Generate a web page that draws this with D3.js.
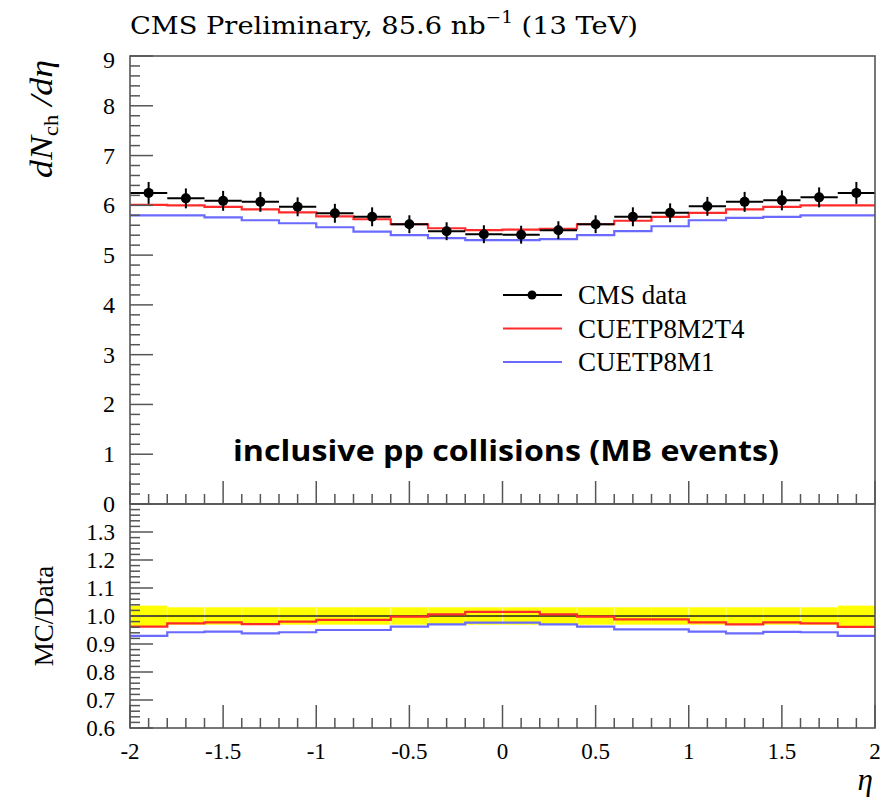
<!DOCTYPE html>
<html><head><meta charset="utf-8">
<script src="https://cdn.jsdelivr.net/npm/d3@7"></script>
<style>body{margin:0;background:#fff}svg{display:block}</style>
</head><body>
<svg id="c" width="888" height="798"></svg>
<script>
const binEdges = [-2,-1.8,-1.6,-1.4,-1.2,-1.0,-0.8,-0.6,-0.4,-0.2,0,0.2,0.4,0.6,0.8,1.0,1.2,1.4,1.6,1.8,2.0];
const dataVals = [6.25,6.14,6.09,6.07,5.97,5.84,5.77,5.62,5.48,5.42,5.41,5.50,5.62,5.77,5.85,5.98,6.07,6.10,6.16,6.25];
const dataErr  = [0.22,0.20,0.20,0.20,0.19,0.19,0.19,0.18,0.18,0.18,0.18,0.18,0.18,0.19,0.19,0.19,0.20,0.20,0.20,0.22];
const m2t4Vals = [6.01,6.00,5.97,5.92,5.86,5.78,5.72,5.62,5.54,5.50,5.51,5.53,5.62,5.69,5.77,5.85,5.92,5.97,6.00,6.00];
const m1Vals   = [5.80,5.80,5.76,5.70,5.64,5.56,5.47,5.40,5.34,5.30,5.30,5.32,5.40,5.48,5.58,5.70,5.75,5.77,5.80,5.80];
const m2t4Ratio = [0.962,0.974,0.977,0.971,0.980,0.986,0.986,0.998,1.006,1.015,1.015,1.006,0.998,0.988,0.988,0.977,0.970,0.977,0.974,0.961];
const m1Ratio   = [0.929,0.942,0.944,0.938,0.942,0.950,0.950,0.962,0.970,0.976,0.976,0.970,0.962,0.952,0.952,0.944,0.938,0.943,0.942,0.929];
const bandHalf  = [0.037,0.031,0.031,0.031,0.031,0.031,0.031,0.031,0.031,0.031,0.031,0.031,0.031,0.031,0.031,0.031,0.031,0.031,0.031,0.037];
const xTickLabels = ["-2","-1.5","-1","-0.5","0","0.5","1","1.5","2"];
const xTickVals = [-2,-1.5,-1,-0.5,0,0.5,1,1.5,2];
const yTopTicks = [0,1,2,3,4,5,6,7,8,9];
const yBotTicks = [0.6,0.7,0.8,0.9,1.0,1.1,1.2,1.3];
const yBotLabels = ["0.6","0.7","0.8","0.9","1.0","1.1","1.2","1.3"];
const legendLabels = ["CMS data","CUETP8M2T4","CUETP8M1"];

const svg = d3.select("#c");
const L=130, R=875, T=56, M=504, B=728;
const x = d3.scaleLinear().domain([-2,2]).range([L,R]);
const yT = d3.scaleLinear().domain([0,9]).range([M,T]);
const yB = d3.scaleLinear().domain([0.6,1.4]).range([B,M]);
const serif = "'Liberation Serif','DejaVu Serif',serif";
const axisCol = "#555";
const RED = "#ff2a2a", BLUE = "#6a6aff";

// band
const bins = d3.range(20).map(i=>({x0:binEdges[i],x1:binEdges[i+1],i}));
svg.append("g").selectAll("rect").data(bins).join("rect")
  .attr("x",d=>x(d.x0)).attr("width",d=>x(d.x1)-x(d.x0))
  .attr("y",d=>yB(1+bandHalf[d.i])).attr("height",d=>yB(1-bandHalf[d.i])-yB(1+bandHalf[d.i]))
  .attr("fill","#ffff00");
svg.append("g").selectAll("line").data(binEdges.slice(1,-1)).join("line")
  .attr("x1",d=>x(d)).attr("x2",d=>x(d))
  .attr("y1",(d,i)=>yB(1+Math.min(bandHalf[i],bandHalf[i+1]))).attr("y2",(d,i)=>yB(1-Math.min(bandHalf[i],bandHalf[i+1])))
  .attr("stroke","#ffff99").attr("stroke-width",1);
svg.append("line").attr("x1",x(-2)).attr("x2",x(2)).attr("y1",yB(1)).attr("y2",yB(1)).attr("stroke","#222").attr("stroke-width",1.5);

function stepPts(vals){const p=vals.map((v,i)=>[binEdges[i],v]);p.push([binEdges[20],vals[19]]);return p;}
function drawStep(vals,y,col){
  const line=d3.line().x(d=>x(d[0])).y(d=>y(d[1])).curve(d3.curveStepAfter);
  svg.append("path").attr("d",line(stepPts(vals))).attr("fill","none").attr("stroke",col).attr("stroke-width",2.2);
}
drawStep(m1Ratio,yB,BLUE);
drawStep(m2t4Ratio,yB,RED);
drawStep(m1Vals,yT,BLUE);
drawStep(m2t4Vals,yT,RED);

// data points
const dg = svg.append("g");
bins.forEach(b=>{
  const c=(b.x0+b.x1)/2, v=dataVals[b.i], e=dataErr[b.i];
  dg.append("line").attr("x1",x(b.x0)).attr("x2",x(b.x1)).attr("y1",yT(v)).attr("y2",yT(v)).attr("stroke","#000").attr("stroke-width",2);
  dg.append("line").attr("x1",x(c)).attr("x2",x(c)).attr("y1",yT(v-e)).attr("y2",yT(v+e)).attr("stroke","#000").attr("stroke-width",2);
  dg.append("circle").attr("cx",x(c)).attr("cy",yT(v)).attr("r",5).attr("fill","#000");
});

// frames
[[T,M],[M,B]].forEach(([t,b])=>{
  svg.append("rect").attr("x",L).attr("y",t).attr("width",R-L).attr("height",b-t).attr("fill","none").attr("stroke",axisCol).attr("stroke-width",1.6);
});

// ticks
const tg = svg.append("g").attr("stroke",axisCol).attr("stroke-width",1.5);
const xMinor = d3.range(-20,21).map(k=>k/10);
[M,B].forEach(yb=>{
  xMinor.forEach(v=>{
    const major = Math.abs(v*2-Math.round(v*2))<1e-6;
    tg.append("line").attr("x1",x(v)).attr("x2",x(v)).attr("y1",yb).attr("y2",yb-(major?23:10));
  });
});
d3.range(0,46).map(k=>k/5).forEach(v=>{
  const major=Math.abs(v-Math.round(v))<1e-6;
  tg.append("line").attr("x1",L).attr("x2",L+(major?23:10)).attr("y1",yT(v)).attr("y2",yT(v));
});
d3.range(30,71).map(k=>k/50).forEach(v=>{
  const major=Math.abs(v*10-Math.round(v*10))<1e-6;
  tg.append("line").attr("x1",L).attr("x2",L+(major?23:10)).attr("y1",yB(v)).attr("y2",yB(v));
});

// tick labels
svg.append("g").selectAll("text").data(yTopTicks).join("text")
  .attr("x",L-15).attr("y",d=>yT(d)+8+(d===9?4:0)).attr("text-anchor","end")
  .attr("font-family",serif).attr("font-size",24).text(d=>d);
svg.append("g").selectAll("text").data(yBotTicks).join("text")
  .attr("x",L-15).attr("y",d=>yB(d)+8).attr("text-anchor","end")
  .attr("font-family",serif).attr("font-size",23).text((d,i)=>yBotLabels[i]);
svg.append("g").selectAll("text").data(xTickVals).join("text")
  .attr("x",d=>x(d)).attr("y",B+31).attr("text-anchor","middle")
  .attr("font-family",serif).attr("font-size",23).text((d,i)=>xTickLabels[i]);

// title
const title = svg.append("text").attr("x",L).attr("y",34).attr("font-family","'DejaVu Serif',serif").attr("font-size",25)
  .attr("textLength",508).attr("lengthAdjust","spacingAndGlyphs");
title.append("tspan").text("CMS Preliminary, 85.6 nb");
title.append("tspan").attr("dy",-11).attr("font-size",17).text("\u22121");
title.append("tspan").attr("dy",11).text(" (13 TeV)");

// y labels
const yl = svg.append("text").attr("transform",`translate(52,${T+4}) rotate(-90)`).attr("text-anchor","end")
  .attr("font-family",serif).attr("font-size",32).attr("textLength",118).attr("lengthAdjust","spacingAndGlyphs");
yl.append("tspan").attr("font-style","italic").text("dN");
yl.append("tspan").attr("font-size",20).attr("dy",6).text("ch");
yl.append("tspan").attr("dy",-6).attr("font-style","italic").text(" /dη");
svg.append("text").attr("transform",`translate(53,${(M+B)/2}) rotate(-90)`).attr("text-anchor","middle")
  .attr("font-family",serif).attr("font-size",27).text("MC/Data");
svg.append("text").attr("x",R-2).attr("y",790).attr("text-anchor","end")
  .attr("font-family",serif).attr("font-style","italic").attr("font-size",31).text("η");

// legend
const lg = svg.append("g");
const legCols=["#000",RED,BLUE];
legendLabels.forEach((t,i)=>{
  const yy=295+i*33.5;
  lg.append("line").attr("x1",503).attr("x2",562).attr("y1",yy).attr("y2",yy).attr("stroke",legCols[i]).attr("stroke-width",2.2);
  if(i===0) lg.append("circle").attr("cx",532).attr("cy",yy).attr("r",4.5).attr("fill","#000");
  lg.append("text").attr("x",578).attr("y",yy+9).attr("font-family",serif).attr("font-size",27).text(t);
});

svg.append("text").attr("x",233).attr("y",461).attr("font-family","'Open Sans',Lato,sans-serif")
  .attr("font-weight","bold").attr("font-size",29).attr("textLength",546).attr("lengthAdjust","spacingAndGlyphs")
  .text("inclusive pp collisions (MB events)");
</script>
</body></html>
